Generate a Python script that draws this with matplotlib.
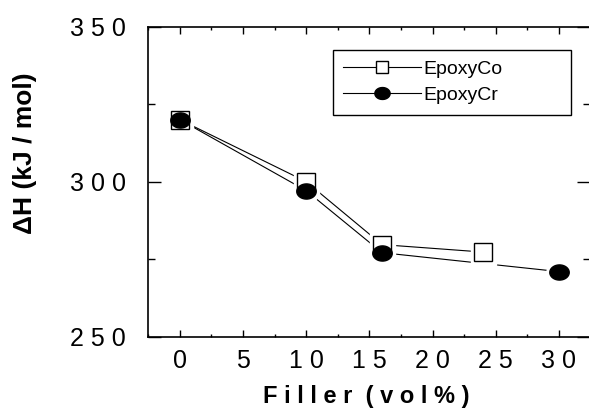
import numpy as np
import matplotlib
matplotlib.use('Agg')
import matplotlib.pyplot as plt
from matplotlib.path import Path
from matplotlib.lines import Line2D

plt.rcParams['font.family'] = ['Liberation Sans', 'DejaVu Sans']

# data
co_x = [0, 10, 16, 24]
co_y = [320, 300, 279.7, 277.3]
cr_x = [0, 10, 16, 30]
cr_y = [320, 297.1, 277.1, 271.0]

xticks = [0, 5, 10, 15, 20, 25, 30]
yticks = [250, 300, 350]

def spaced(s):
    return ' '.join(s)

# flattened ellipse marker for the filled points
t = np.linspace(0, 2 * np.pi, 40)
ellipse = Path(np.column_stack([np.cos(t), 0.78 * np.sin(t)]), closed=True)

fig = plt.figure(figsize=(5.89, 4.11), dpi=100)
ax = fig.add_axes([0.2518, 0.1808, 0.7507, 0.7543])

# lines first, then white halos so the lines stop short of the markers
ax.plot(co_x, co_y, '-', color='k', lw=0.8, zorder=2)
ax.plot(cr_x, cr_y, '-', color='k', lw=0.8, zorder=2)
ax.plot(co_x, co_y, ls='none', marker='s', ms=18, color='white', zorder=3)
ax.plot(cr_x, cr_y, ls='none', marker='o', ms=18, color='white', zorder=3)
ax.plot(co_x, co_y, ls='none', marker='s', ms=12.5, mfc='white', mec='k', mew=1, zorder=4)
ax.plot(cr_x, cr_y, ls='none', marker=ellipse, ms=14, mfc='k', mec='k', zorder=5)

ax.set_xlim(-2.5, 32.5)
ax.set_ylim(250, 350)
ax.set_xticks(xticks)
ax.set_xticklabels([spaced(str(v)) for v in xticks])
ax.set_xticks(np.arange(-2.5, 33, 5), minor=True)
ax.set_yticks(yticks)
ax.set_yticklabels([spaced(str(v)) for v in yticks])
ax.set_yticks([275, 325], minor=True)

ax.tick_params(which='both', direction='in', top=True, right=True, width=1)
ax.tick_params(axis='x', which='major', length=5, pad=9, labelsize=18)
ax.tick_params(axis='x', which='minor', length=2.5)
ax.tick_params(axis='y', which='major', length=9.5, pad=16, labelsize=18)
ax.tick_params(axis='y', which='minor', length=5)
for s in ax.spines.values():
    s.set_linewidth(1.2)

ax.set_xlabel(spaced('Filler') + '  ' + spaced('(vol%)'), fontsize=17, fontweight='bold', va='center')
ax.xaxis.set_label_coords(0.492, -0.1945)
ax.set_ylabel('ΔH (kJ / mol)', fontsize=19, fontweight='bold', va='center')
ax.yaxis.set_label_coords(-0.279, 0.5926)

handles = [
    Line2D([], [], color='k', lw=0.8, marker='s', ms=9, mfc='white', mec='k', mew=1),
    Line2D([], [], color='k', lw=0.8, marker=ellipse, ms=11, mfc='k', mec='k'),
]
leg = ax.legend(handles, ['EpoxyCo', 'EpoxyCr'], loc='upper left',
                bbox_to_anchor=(0.417, 0.7226, 0.54, 0.2024), mode='expand',
                fontsize=14, frameon=True, fancybox=False, framealpha=1,
                edgecolor='k', borderpad=0.55, labelspacing=0.42,
                handlelength=4.0, handletextpad=0.1, borderaxespad=0)
leg.get_frame().set_linewidth(1)

fig.savefig('out.png', dpi=100)
